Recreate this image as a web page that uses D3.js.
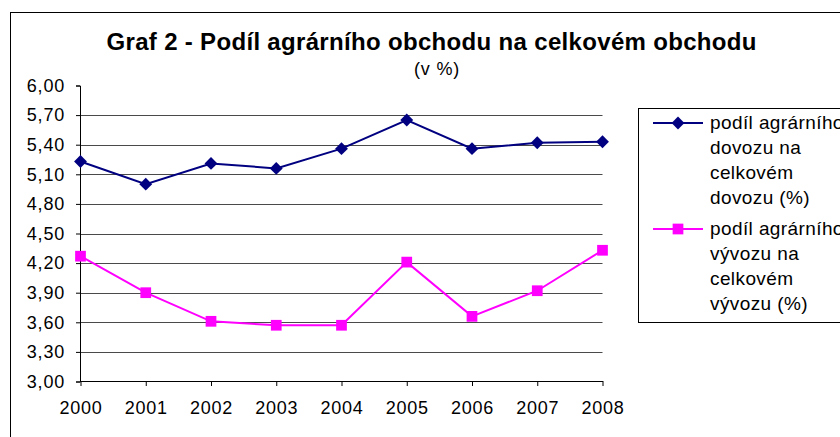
<!DOCTYPE html>
<html>
<head>
<meta charset="utf-8">
<script src="https://cdn.jsdelivr.net/npm/d3@7"></script>
<style>
  body { margin: 0; background: #fff; }
  svg { display: block; font-family: "Liberation Sans", Arial, sans-serif; }
</style>
</head>
<body>
<svg id="graf" width="840" height="437"></svg>
<script>
'use strict';

// Data
var roky = ['2000', '2001', '2002', '2003', '2004', '2005', '2006', '2007', '2008'];
var dovoz = [5.23, 5.00, 5.21, 5.16, 5.36, 5.65, 5.36, 5.42, 5.43];
var vyvoz = [4.27, 3.90, 3.61, 3.57, 3.57, 4.21, 3.66, 3.92, 4.33];
var yTicks = [3.00, 3.30, 3.60, 3.90, 4.20, 4.50, 4.80, 5.10, 5.40, 5.70, 6.00];
var titulek = 'Graf 2 - Podíl agrárního obchodu na celkovém obchodu';
var podtitulek = '(v %)';
var legenda = [
  ['podíl agrárního', 'dovozu na', 'celkovém', 'dovozu (%)'],
  ['podíl agrárního', 'vývozu na', 'celkovém', 'vývozu (%)']
];

(function() {
  var svg = d3.select('#graf');

  // outer frame, cut off at the right and bottom like the original
  svg.append('rect')
    .attr('x', 10.5).attr('y', 12.5)
    .attr('width', 860).attr('height', 460)
    .attr('fill', '#fff').attr('stroke', '#000').attr('stroke-width', 1);

  var x = d3.scalePoint().domain(roky).range([80.5, 602.5]);
  var y = d3.scaleLinear().domain([3, 6]).range([381.5, 85.5]);

  // gridlines
  svg.append('g').selectAll('line')
    .data(yTicks.filter(function(d) { return d > 3 && d < 6; }))
    .enter().append('line')
    .attr('x1', x.range()[0]).attr('x2', x.range()[1])
    .attr('y1', function(d) { return Math.round(y(d)) + 0.5; })
    .attr('y2', function(d) { return Math.round(y(d)) + 0.5; })
    .attr('stroke', '#4a4a4a').attr('stroke-width', 1);

  var fmt = function(d) { return d3.format('.2f')(d).replace('.', ','); };

  // y axis
  var yAxis = svg.append('g')
    .attr('transform', 'translate(80,0)')
    .call(d3.axisLeft(y).tickValues(yTicks).tickFormat(fmt).tickSize(4).tickPadding(11));
  yAxis.select('.domain').attr('stroke', '#000');
  yAxis.selectAll('.tick line').attr('stroke', '#000');
  yAxis.selectAll('text')
    .attr('font-size', 18).attr('fill', '#000')
    .attr('font-family', '"Liberation Sans", Arial, sans-serif')
    .attr('letter-spacing', 0.8);

  // x axis
  var xAxis = svg.append('g')
    .attr('transform', 'translate(0,381)')
    .call(d3.axisBottom(x).tickSize(5).tickPadding(15).tickSizeOuter(0));
  xAxis.select('.domain').attr('stroke', '#000');
  xAxis.selectAll('.tick line').attr('stroke', '#000');
  xAxis.selectAll('text')
    .attr('font-size', 18).attr('fill', '#000')
    .attr('font-family', '"Liberation Sans", Arial, sans-serif')
    .attr('letter-spacing', 0.8);

  var line = d3.line()
    .x(function(d, i) { return x(roky[i]); })
    .y(function(d) { return y(d); });

  var diamond = d3.symbol().type(d3.symbolDiamond2).size(105);
  var square = d3.symbol().type(d3.symbolSquare).size(115);

  function serie(data, barva, symbol) {
    var g = svg.append('g');
    g.append('path').datum(data)
      .attr('d', line).attr('fill', 'none')
      .attr('stroke', barva).attr('stroke-width', 2);
    g.selectAll('path.bod').data(data).enter().append('path')
      .attr('class', 'bod')
      .attr('d', symbol)
      .attr('transform', function(d, i) { return 'translate(' + x(roky[i]) + ',' + y(d) + ')'; })
      .attr('fill', barva);
  }
  serie(dovoz, '#000080', diamond);
  serie(vyvoz, '#ff00ff', square);

  // title
  svg.append('text')
    .attr('x', 431.5).attr('y', 50)
    .attr('text-anchor', 'middle')
    .attr('font-size', 24).attr('font-weight', 'bold')
    .attr('textLength', 650).attr('lengthAdjust', 'spacing')
    .text(titulek);
  svg.append('text')
    .attr('x', 437).attr('y', 75)
    .attr('text-anchor', 'middle')
    .attr('font-size', 18).attr('letter-spacing', 0.8)
    .text(podtitulek);

  // legend
  var leg = svg.append('g');
  leg.append('rect')
    .attr('x', 638.5).attr('y', 108.5)
    .attr('width', 260).attr('height', 214)
    .attr('fill', '#fff').attr('stroke', '#000');
  var barvy = ['#000080', '#ff00ff'];
  var symboly = [diamond, square];
  var radky = [123, 229];
  legenda.forEach(function(radkyTextu, i) {
    leg.append('line')
      .attr('x1', 653).attr('x2', 703)
      .attr('y1', radky[i]).attr('y2', radky[i])
      .attr('stroke', barvy[i]).attr('stroke-width', 2);
    leg.append('path')
      .attr('d', symboly[i])
      .attr('transform', 'translate(678,' + radky[i] + ')')
      .attr('fill', barvy[i]);
    radkyTextu.forEach(function(t, j) {
      leg.append('text')
        .attr('x', 710).attr('y', radky[i] + 6 + j * 25)
        .attr('font-size', 19).attr('letter-spacing', 0.4)
        .text(t);
    });
  });
})();
</script>
</body>
</html>
